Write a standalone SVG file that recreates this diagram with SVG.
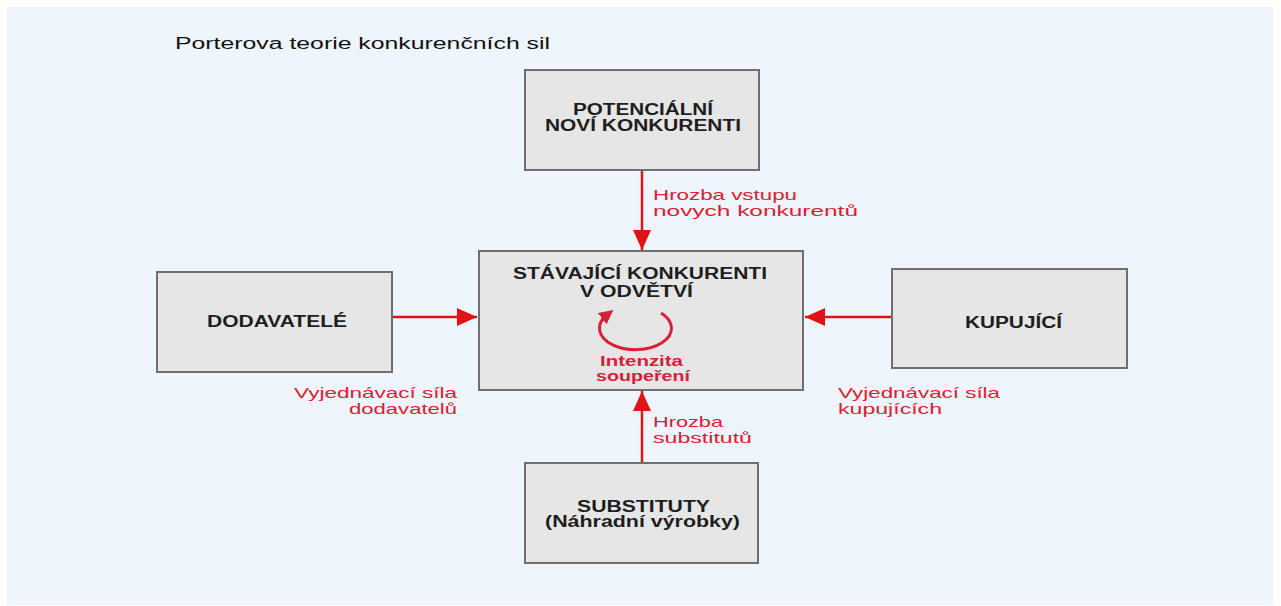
<svg xmlns="http://www.w3.org/2000/svg" width="1281" height="606" viewBox="0 0 1281 606">
<style>
.box{fill:#e6e6e6;stroke:#6f6f6f;stroke-width:2}
.bl{font-family:"Liberation Sans",Arial,sans-serif;font-weight:bold;font-size:16px;fill:#1e1e1e}
.rl{font-family:"Liberation Sans",Arial,sans-serif;font-size:15px;fill:#dc2030}
.rb{font-family:"Liberation Sans",Arial,sans-serif;font-weight:bold;font-size:15px;fill:#d8203a}
.ttl{font-family:"Liberation Sans",Arial,sans-serif;font-size:16px;fill:#111}
.ar{stroke:#e01414;stroke-width:2.5;fill:none}
</style>
<defs>
<marker id="ah" markerUnits="userSpaceOnUse" markerWidth="22" markerHeight="20" refX="20" refY="9" orient="auto">
<path d="M0,0 L20,9 L0,18 Z" fill="#e01414"/>
</marker>
<marker id="ah2" markerUnits="userSpaceOnUse" markerWidth="18" markerHeight="18" refX="6" refY="7" orient="auto">
<path d="M0,0 L14,7 L0,14 Z" fill="#d8203a"/>
</marker>
</defs>
<rect x="0" y="0" width="1281" height="606" fill="#ffffff"/>
<rect x="7" y="7" width="1266" height="598" fill="#eff5fd"/>
<text class="ttl" x="175" y="49" textLength="375" lengthAdjust="spacingAndGlyphs">Porterova teorie konkurenčních sil</text>

<g id="connectors">
<line class="ar" x1="642" y1="171" x2="642" y2="250" marker-end="url(#ah)"/>
<line class="ar" x1="393" y1="317" x2="477" y2="317" marker-end="url(#ah)"/>
<line class="ar" x1="891" y1="317" x2="805" y2="317" marker-end="url(#ah)"/>
<line class="ar" x1="642" y1="462" x2="642" y2="391" marker-end="url(#ah)"/>
</g>

<g id="top">
<rect class="box" x="525" y="70" width="234" height="100"/>
<text class="bl" x="573" y="115" textLength="140" lengthAdjust="spacingAndGlyphs">POTENCIÁLNÍ</text>
<text class="bl" x="545" y="131" textLength="196" lengthAdjust="spacingAndGlyphs">NOVÍ KONKURENTI</text>
</g>

<g id="center">
<rect class="box" x="479" y="251" width="324" height="139"/>
<text class="bl" x="513" y="279" textLength="254" lengthAdjust="spacingAndGlyphs">STÁVAJÍCÍ KONKURENTI</text>
<text class="bl" x="580" y="297" textLength="113" lengthAdjust="spacingAndGlyphs">V ODVĚTVÍ</text>
<path d="M 661 313 A 36 21.5 0 1 1 607 315" fill="none" stroke="#d8203a" stroke-width="3" marker-end="url(#ah2)"/>
<text class="rb" x="600" y="366" textLength="83" lengthAdjust="spacingAndGlyphs">Intenzita</text>
<text class="rb" x="596" y="381" textLength="94" lengthAdjust="spacingAndGlyphs">soupeření</text>
</g>

<g id="left">
<rect class="box" x="157" y="272" width="235" height="100"/>
<text class="bl" x="207" y="327" textLength="140" lengthAdjust="spacingAndGlyphs">DODAVATELÉ</text>
</g>

<g id="right">
<rect class="box" x="892" y="269" width="235" height="99"/>
<text class="bl" x="965" y="328" textLength="97" lengthAdjust="spacingAndGlyphs">KUPUJÍCÍ</text>
</g>

<g id="bottom">
<rect class="box" x="525" y="463" width="233" height="100"/>
<text class="bl" x="577" y="512" textLength="133" lengthAdjust="spacingAndGlyphs">SUBSTITUTY</text>
<text class="bl" x="545" y="527" textLength="195" lengthAdjust="spacingAndGlyphs">(Náhradní výrobky)</text>
</g>

<g id="labels">
<text class="rl" x="653" y="200" textLength="144" lengthAdjust="spacingAndGlyphs">Hrozba vstupu</text>
<text class="rl" x="653" y="216" textLength="205" lengthAdjust="spacingAndGlyphs">novych konkurentů</text>
<text class="rl" x="294" y="398" textLength="163" lengthAdjust="spacingAndGlyphs">Vyjednávací síla</text>
<text class="rl" x="349" y="414" textLength="108" lengthAdjust="spacingAndGlyphs">dodavatelů</text>
<text class="rl" x="838" y="398" textLength="162" lengthAdjust="spacingAndGlyphs">Vyjednávací síla</text>
<text class="rl" x="838" y="414" textLength="104" lengthAdjust="spacingAndGlyphs">kupujících</text>
<text class="rl" x="653" y="427" textLength="70" lengthAdjust="spacingAndGlyphs">Hrozba</text>
<text class="rl" x="653" y="443" textLength="99" lengthAdjust="spacingAndGlyphs">substitutů</text>
</g>
</svg>
